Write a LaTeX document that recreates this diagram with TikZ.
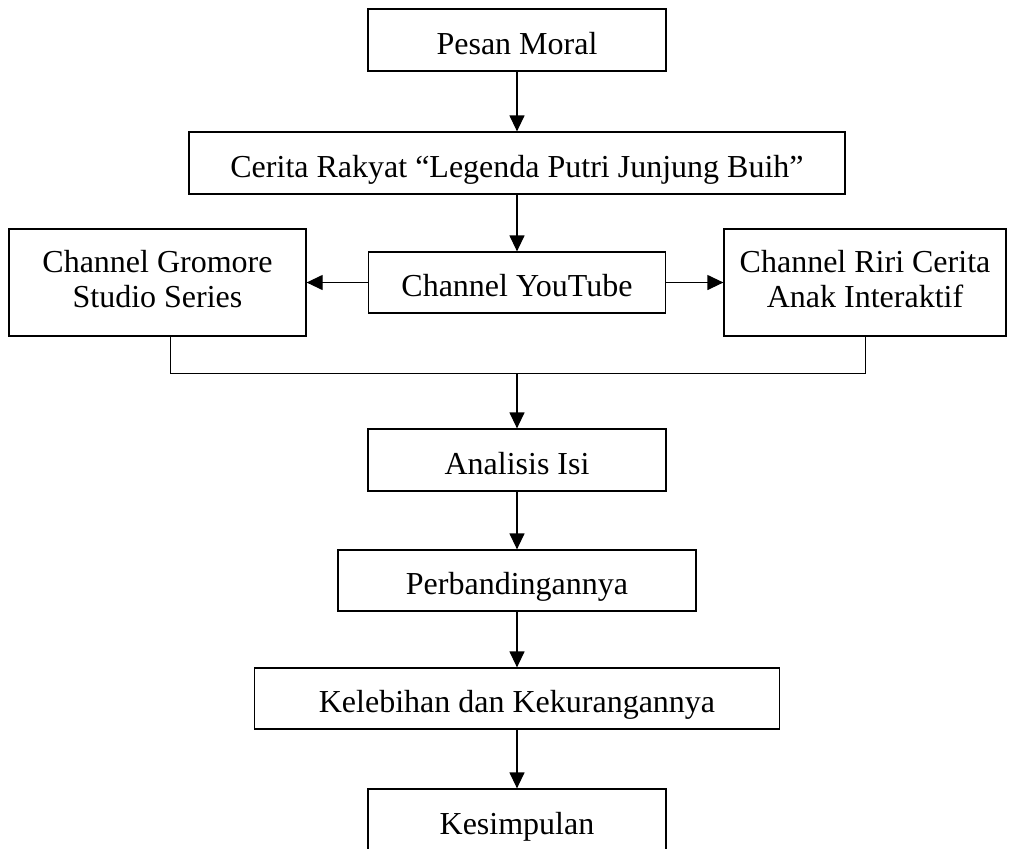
\documentclass[tikz,border=0pt]{standalone}
\usepackage{fontspec}
\setmainfont{Liberation Serif}
\usepackage{tikz}
\usetikzlibrary{calc}
\usetikzlibrary{arrows.meta}
\usetikzlibrary{positioning}

\tikzset{
    box/.style    = {draw, line width=0.5pt, inner sep=0pt, align=center, font=\fontsize{12.8}{14}\selectfont},
    oneline/.style= {box, text height=13.5pt, text depth=2pt},
    arr/.style    = {-{Triangle[width=6pt,length=6.4pt]}, line width=0.5pt}
}

\begin{document}
\begin{tikzpicture}[x=0.4pt, y=-0.4pt]
            \clip                                                                      (0, 0) rectangle (1014, 848);
            \node[oneline, minimum width=119.2pt, minimum height=24.8pt] (pesan)      at (517,  40.0) {Pesan Moral};
            \node[oneline, minimum width=262.4pt, minimum height=24.8pt] (cerita)     at (517, 163.0) {Cerita Rakyat “Legenda Putri Junjung Buih”};
            \node[oneline, minimum width=118.8pt, minimum height=24.4pt] (youtube)    at (517, 282.5) {Channel YouTube};
            \node[box,     minimum width=118.8pt, minimum height=42.8pt] (gromore)    at (157.5, 282.5) {\strut Channel Gromore\\ Studio Series\strut};
            \node[box,     minimum width=112.8pt, minimum height=42.8pt] (riri)       at (865, 282.5) {\strut Channel Riri Cerita\\ Anak Interaktif\strut};
            \node[oneline, minimum width=119.2pt, minimum height=24.8pt] (analisis)   at (517, 460.0) {Analisis Isi};
            \node[oneline, minimum width=143.2pt, minimum height=24.4pt] (banding)    at (517, 580.5) {Perbandingannya};
            \node[oneline, minimum width=210.0pt, minimum height=24.4pt] (kelebihan)  at (517, 698.5) {Kelebihan dan Kekurangannya};
            \node[oneline, minimum width=119.2pt, minimum height=24.8pt] (simpulan)   at (517, 820.0) {Kesimpulan};
            \coordinate (join)  at (517, 373);
            \coordinate (gline) at (170, 373);
            \draw[arr] (pesan)     -- (cerita);
            \draw[arr] (cerita)    -- (youtube);
            \draw[arr] (youtube)   -- (gromore);
            \draw[arr] (youtube)   -- (riri);
            \draw      (gline |- gromore.south) -- (gline) -- (gline -| riri.south) -- (riri.south);
            \draw[arr] (join)      -- (analisis);
            \draw[arr] (analisis)  -- (banding);
            \draw[arr] (banding)   -- (kelebihan);
            \draw[arr] (kelebihan) -- (simpulan);
\end{tikzpicture}
\end{document}
